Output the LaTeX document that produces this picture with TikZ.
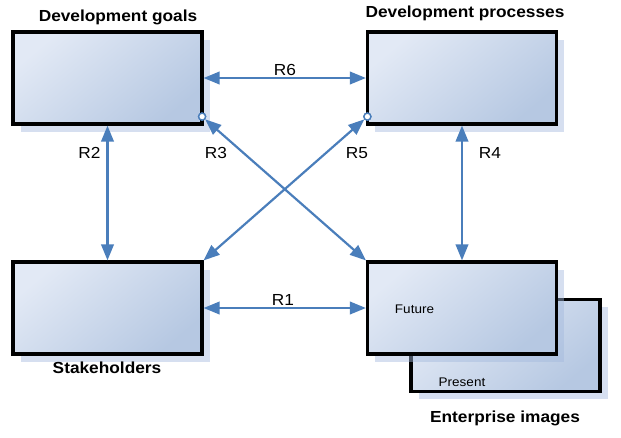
\documentclass[tikz,border=0pt]{standalone}
\usepackage{fontspec}
\newfontfamily\lbl[FakeStretch=1.08]{Liberation Sans}
\usetikzlibrary{arrows.meta,shadows}
\definecolor{arrblue}{HTML}{4A7EBB}
\definecolor{boxlight}{HTML}{E2E9F5}
\definecolor{boxdark}{HTML}{B6C8E2}
\definecolor{shadowblue}{HTML}{A3B9DD}
\tikzset{
  box/.style={draw=black, line width=3.2pt, minimum width=189pt, minimum height=92pt,
    inner sep=0pt, top color=boxlight, bottom color=boxdark, shading angle=40,
    drop shadow={shadow xshift=7.5pt, shadow yshift=-7.5pt, fill=shadowblue, opacity=0.45}},
  arr/.style={draw=arrblue, line width=2.2pt, {Triangle[length=16pt,width=12.5pt]}-{Triangle[length=16pt,width=12.5pt]}},
  dot/.style={circle, draw=arrblue, fill=white, line width=1.4pt, minimum size=7pt, inner sep=0pt},
  title/.style={anchor=base, inner sep=0pt, font=\lbl\bfseries\fontsize{16}{18}\selectfont},
  rel/.style={anchor=base, inner sep=0pt, font=\lbl\fontsize{16}{18}\selectfont},
  small/.style={anchor=base, inner sep=0pt, font=\lbl\fontsize{12.5}{14}\selectfont}
}
\begin{document}
\begin{tikzpicture}[x=1pt,y=-1pt]
\useasboundingbox (0,0) rectangle (621,437);
% boxes
\node[box] (dg) at (107.5,78) {};
\node[box] (dp) at (462,78) {};
\node[box] (sh) at (107.5,308) {};
\node[box] (pr) at (505.5,345.5) {};
\node[box] (fu) at (462,308) {};
% titles
\node[title] (tdg) at (118,21) {Development goals};
\node[title] (tdp) at (465,17.5) {Development processes};
\node[title] (tsh) at (107,373) {Stakeholders};
\node[title] (tei) at (505,422) {Enterprise images};
% inner texts
\node[small] (tfu) at (414.5,313) {Future};
\node[small] (tpr) at (462,386) {Present};
% circles
\node[dot] (c1) at ([xshift=-1.5pt,yshift=9pt]dg.south east) {};
\node[dot] (c2) at ([xshift=1.5pt,yshift=9pt]dp.south west) {};
% arrows
\draw[arr] (dg) -- (dp);
\draw[arr] (dg) -- (sh);
\draw[arr] (dp) -- (fu);
\draw[arr] (sh) -- (fu);
\draw[arr] (c1) -- (fu.north west);
\draw[arr] (c2) -- (sh.north east);
\node[dot] at (c1) {};
\node[dot] at (c2) {};
% labels
\node[rel] (r6) at (285,75) {R6};
\node[rel] (r2) at (89.5,158) {R2};
\node[rel] (r3) at (216,158) {R3};
\node[rel] (r5) at (357,158) {R5};
\node[rel] (r4) at (490,158) {R4};
\node[rel] (r1) at (283,305) {R1};
\end{tikzpicture}
\end{document}
